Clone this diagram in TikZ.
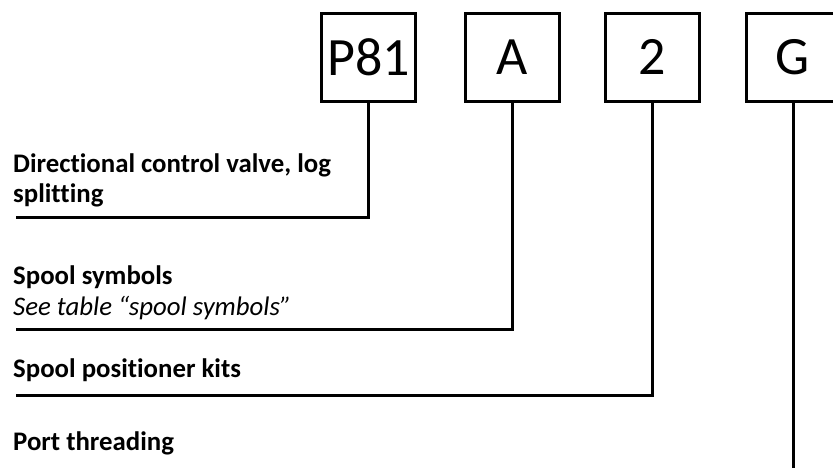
\documentclass[tikz,border=0pt]{standalone}
\usepackage{fontspec}
\setmainfont[Ligatures=NoCommon]{Carlito}
\begin{document}
\begin{tikzpicture}[x=1pt,y=-1pt,
  codebox/.style={draw, line width=3pt, minimum width=94pt, minimum height=88pt,
    inner sep=0pt, outer sep=0pt, font=\fontsize{54}{60}\selectfont},
  link/.style={line width=3pt, line join=miter},
  lbl/.style={anchor=base west, inner sep=0pt, font=\fontsize{26.8}{30}\selectfont\bfseries},
  sublbl/.style={anchor=base west, inner sep=0pt, font=\fontsize{26.8}{30}\selectfont\itshape}]
\useasboundingbox (0,0) rectangle (833,467);
\clip (0,0) rectangle (833,467);
% code boxes
\node[codebox] (p81) at (368.5,57) {P81};
\node[codebox] (a)   at (512,57)   {A};
\node[codebox] (two) at (652.5,57) {2};
\node[codebox] (g)   at (793,57)   {G};
% free ends of connectors
\coordinate (e1) at (16,217);
\coordinate (e2) at (16,329);
\coordinate (e3) at (16,395);
\coordinate (e4) at (793,470);
\draw[link] (p81.south) |- (e1);
\draw[link] (a.south) |- (e2);
\draw[link] (two.south) |- (e3);
\draw[link] (g.south) -- (e4);
% labels
\node[lbl] (t1a) at (13,172) {Directional control valve, log};
\node[lbl] (t1b) at (13,202) {splitting};
\node[lbl] (t2a) at (13,284) {Spool symbols};
\node[sublbl] (t2b) at (13,315) {See table “spool symbols”};
\node[lbl] (t3) at (13,377) {Spool positioner kits};
\node[lbl] (t4) at (13,450) {Port threading};
\end{tikzpicture}
\end{document}
